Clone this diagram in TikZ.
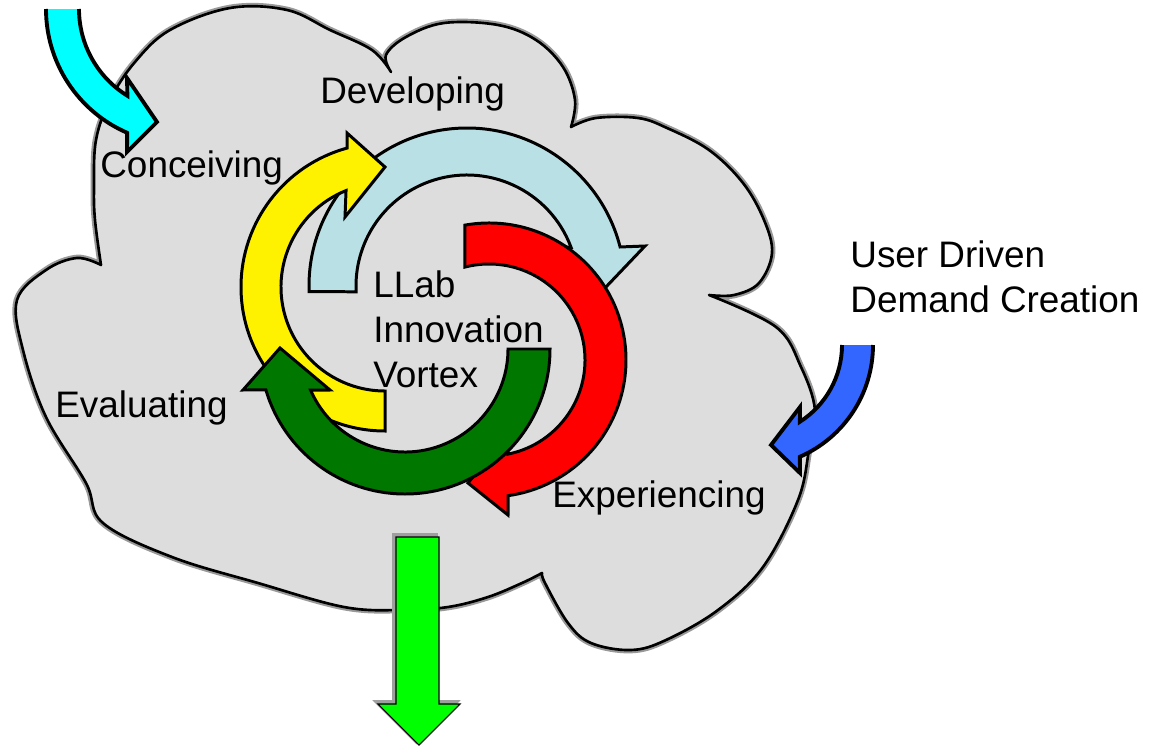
\documentclass[tikz,border=0pt]{standalone}
\usepackage{fontspec}
\setmainfont{Liberation Sans}

\definecolor{cloudgray}{RGB}{221,221,221}
\definecolor{paleblue}{RGB}{185,224,228}
\definecolor{darkgreen}{RGB}{0,120,0}
\definecolor{userblue}{RGB}{51,102,255}
\definecolor{ideacyan}{RGB}{0,255,255}
\definecolor{outgreen}{RGB}{0,255,0}

\begin{document}
\begin{tikzpicture}[x=0.02cm, y=-0.02cm,
    vortex/.style={draw=black, line width=1.7pt, line join=miter},
    inflow/.style={draw=black, line width=2.2pt, line join=miter},
    stage/.style={inner sep=0pt, anchor=base west, align=left, font=\fontsize{21}{25.5}\selectfont}]
    \path[use as bounding box, fill=white](0, 0) rectangle (1155, 747);

    % cloud
    \draw[fill=cloudgray, line width=1.5pt, line join=round, preaction={draw=gray!80, line width=3.8pt}]
        plot[smooth, tension=0.6] coordinates {(101,265) (95,220) (94,187) (96,140) (110,100) (135,62) (170,30) (230,8) (287,10) (330,30) (372,50) (391,72)}
        -- plot[smooth, tension=0.6] coordinates {(391,72) (386,55) (406,37) (444,23) (498,25) (536,40) (563,67) (575,100) (571,127)}
        -- plot[smooth, tension=0.6] coordinates {(571,127) (596,118) (638,118) (667,128) (709,150) (743,183) (764,220) (772,253) (759,283) (734,295) (709,295)}
        -- plot[smooth, tension=0.6] coordinates {(709,295) (776,327) (801,367) (815,410) (809,450) (798,500) (763,567) (718,610) (666,640) (631,650) (591,643) (568,623) (545,583) (542,573)}
        -- plot[smooth, tension=0.6] coordinates {(542,573) (522,583) (488,597) (448,607) (402,610) (344,607) (258,583) (172,557) (103,523) (86,483) (46,417) (23,350) (17,300) (46,270) (77,258) (101,265)}
        -- cycle;

    % arrows coming in
    \begin{scope}[shift={(181, 9)}]
        \filldraw[inflow, fill=ideacyan](180:102) arc[start angle=180, end angle=121.7, radius=102] -- (-54, 69) -- (-24, 113) -- (-54, 143) -- (113.5:135) arc[start angle=113.5, end angle=180, radius=135];
    \end{scope}
    \begin{scope}[shift={(751, 345)}]
        \filldraw[inflow, fill=userblue](0:91) arc[start angle=0, end angle=57.5, radius=91] -- (49, 62) -- (20, 100) -- (49, 128) -- (66.4:122) arc[start angle=66.4, end angle=0, radius=122];
    \end{scope}

    % vortex
    \begin{scope}[shift={(467, 286)}]
        \filldraw[vortex, fill=paleblue](178:158) arc[start angle=178, end angle=345.7, radius=158] -- (178, -40) -- (138, 2) -- (91, -39) -- (339.6:111) arc[start angle=339.6, end angle=177, radius=111] -- cycle;
    \end{scope}
    \begin{scope}[shift={(489, 360)}]
        \filldraw[vortex, fill=red](259.9:137) arc[start angle=259.9, end angle=442, radius=137] -- (19, 155) -- (-21, 123) -- (19, 74) -- (438.6:96) arc[start angle=438.6, end angle=255.5, radius=96] -- cycle;
    \end{scope}
    \begin{scope}[shift={(385, 287)}]
        \filldraw[vortex, fill=yellow](90:144) arc[start angle=90, end angle=254.7, radius=144] -- (-38, -154) -- (0, -120) -- (-40, -70) -- (248:104) arc[start angle=248, end angle=90, radius=104] -- cycle;
    \end{scope}
    \begin{scope}[shift={(405, 349)}]
        \filldraw[vortex, fill=darkgreen](0:145) arc[start angle=0, end angle=163.6, radius=145] -- (-162, 41) -- (-125, -1) -- (-75, 41) -- (156.5:103) arc[start angle=156.5, end angle=0, radius=103] -- cycle;
    \end{scope}

    % arrow going out
    \filldraw[fill=outgreen, draw=black, line width=0.6pt, preaction={fill=gray!75, draw=gray!75, line width=1.5pt, transform canvas={xshift=-0.05cm, yshift=0.05cm}}]
        (396, 537) -- (439, 537) -- (439, 704) -- (460, 704) -- (419, 745) -- (378, 704) -- (396, 704) -- cycle;

    \node[stage](developing) at (320, 103){Developing};
    \node[stage](conceiving) at (100, 177){Conceiving};
    \node[stage](vortexname) at (373, 387){LLab\\Innovation\\Vortex};
    \node[stage](evaluating) at (55, 417){Evaluating};
    \node[stage](experiencing) at (552, 507){Experiencing};
    \node[stage](demand) at (850, 312){User Driven\\Demand Creation};
\end{tikzpicture}
\end{document}
